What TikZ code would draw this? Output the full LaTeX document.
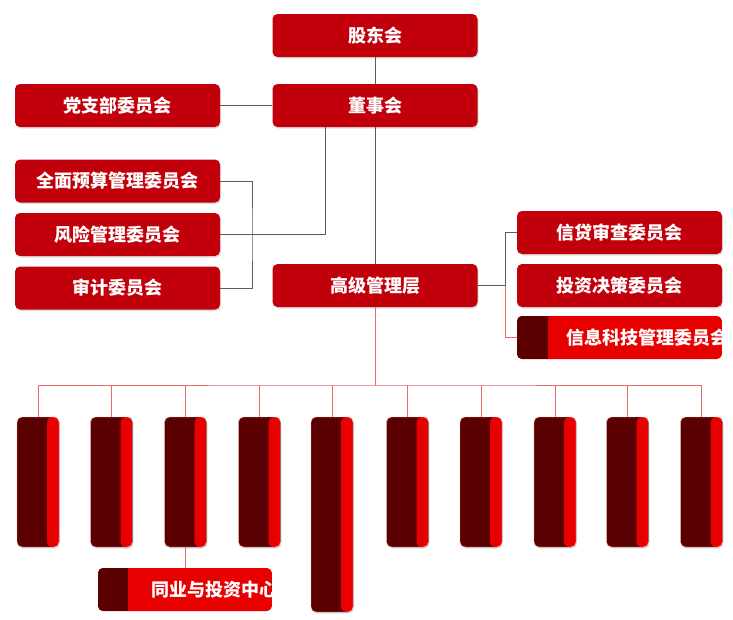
\documentclass[tikz,border=0pt]{standalone}
\usepackage{fontspec}
\newfontfamily\cjk{Noto Sans CJK SC}
\usetikzlibrary{shadows}
\definecolor{boxred}{HTML}{C2000C}
\definecolor{darkred}{HTML}{5A0000}
\definecolor{brightred}{HTML}{E80000}
\definecolor{lgrey}{HTML}{5C5C5C}
\definecolor{lred}{HTML}{E86A6A}
\begin{document}
\begin{tikzpicture}[x=1pt,y=-1pt,
  boxfont/.style={text=white, font=\cjk\bfseries\fontsize{18}{18}\selectfont},
  box/.style={rectangle, rounded corners=5pt, inner sep=0pt, boxfont,
    drop shadow={opacity=0.25, shadow xshift=1pt, shadow yshift=-1.5pt}},
  mainbox/.style={box, fill=boxred, minimum width=205pt, minimum height=43pt},
  deptbox/.style={box, fill=darkred, draw=lred!60, line width=0.4pt, minimum width=42pt, minimum height=#1,
    path picture={\fill[brightred] ([xshift=-12pt]path picture bounding box.north east) rectangle (path picture bounding box.south east);}},
  deptbox/.default=130pt,
  greyline/.style={draw=lgrey, line width=0.9pt},
  redline/.style={draw=lred, line width=0.9pt}]
\useasboundingbox (0,0) rectangle (733,619);

% top boxes
\node[mainbox] (gd) at (375,35.5) {股东会};
\node[mainbox] (dsh) at (375,105.5) {董事会};
\node[mainbox] (dzb) at (117.5,105.5) {党支部委员会};
\node[mainbox] (qm) at (117.5,181) {全面预算管理委员会};
\node[mainbox] (fx) at (117.5,234.5) {风险管理委员会};
\node[mainbox] (sj) at (117.5,288) {审计委员会};
\node[mainbox] (gj) at (375,285.5) {高级管理层};
\node[mainbox] (xd) at (619.5,232.5) {信贷审查委员会};
\node[mainbox] (tz) at (619.5,285.5) {投资决策委员会};
\begin{scope}
\clip[rounded corners=5pt] (517,316) rectangle (722,359);
\node[box, fill=brightred, minimum width=205pt, minimum height=43pt, drop shadow={opacity=0}] (xx) at (619.5,337.5) {};
\fill[darkred] (517,316) rectangle (548,359);
\node[boxfont] (xxt) at (647,337.5) {信息科技管理委员会};
\end{scope}

% departments
\node[deptbox] (d1) at (38,482) {};
\node[deptbox] (d2) at (111.5,482) {};
\node[deptbox] (d3) at (185.5,482) {};
\node[deptbox] (d4) at (259.5,482) {};
\node[deptbox=195pt] (d5) at (332,514.5) {};
\node[deptbox] (d6) at (407.5,482) {};
\node[deptbox] (d7) at (481,482) {};
\node[deptbox] (d8) at (555,482) {};
\node[deptbox] (d9) at (627.5,482) {};
\node[deptbox] (d10) at (701.5,482) {};
\begin{scope}
\clip[rounded corners=5pt] (98,568) rectangle (272,611);
\node[box, fill=brightred, minimum width=174pt, minimum height=43pt, drop shadow={opacity=0}] (ty) at (185,589.5) {};
\fill[darkred] (98,568) rectangle (128,611);
\node[boxfont] (tyt) at (214,589.5) {同业与投资中心};
\end{scope}

% connectors
\coordinate (bk) at (252,234.5);
\coordinate (rb) at (505,285.5);
\coordinate (bus) at (375,385);
\draw[greyline] (gd.south) -- (dsh.north);
\draw[greyline] (dzb.east) -- (dsh.west);
\draw[greyline] ([xshift=-50pt]dsh.south) |- (fx.east);
\draw[greyline] (qm.east) -| (bk) |- (sj.east);
\draw[greyline] (dsh.south) -- (gj.north);
\draw[greyline] (gj.east) -- (rb);
\draw[greyline] (xd.west) -| (rb);
\draw[redline] (rb) |- (xx.west);
\draw[redline] (gj.south) -- (bus);
\draw[redline] (d1.north) |- (bus) -| (d10.north);
\foreach \n in {d2,d3,d4,d5,d6,d7,d8,d9} \draw[redline] (\n.north) -- (\n.north |- bus);
\draw[redline] (d3.south) -- (d3.south |- ty.north);
\end{tikzpicture}
\end{document}
